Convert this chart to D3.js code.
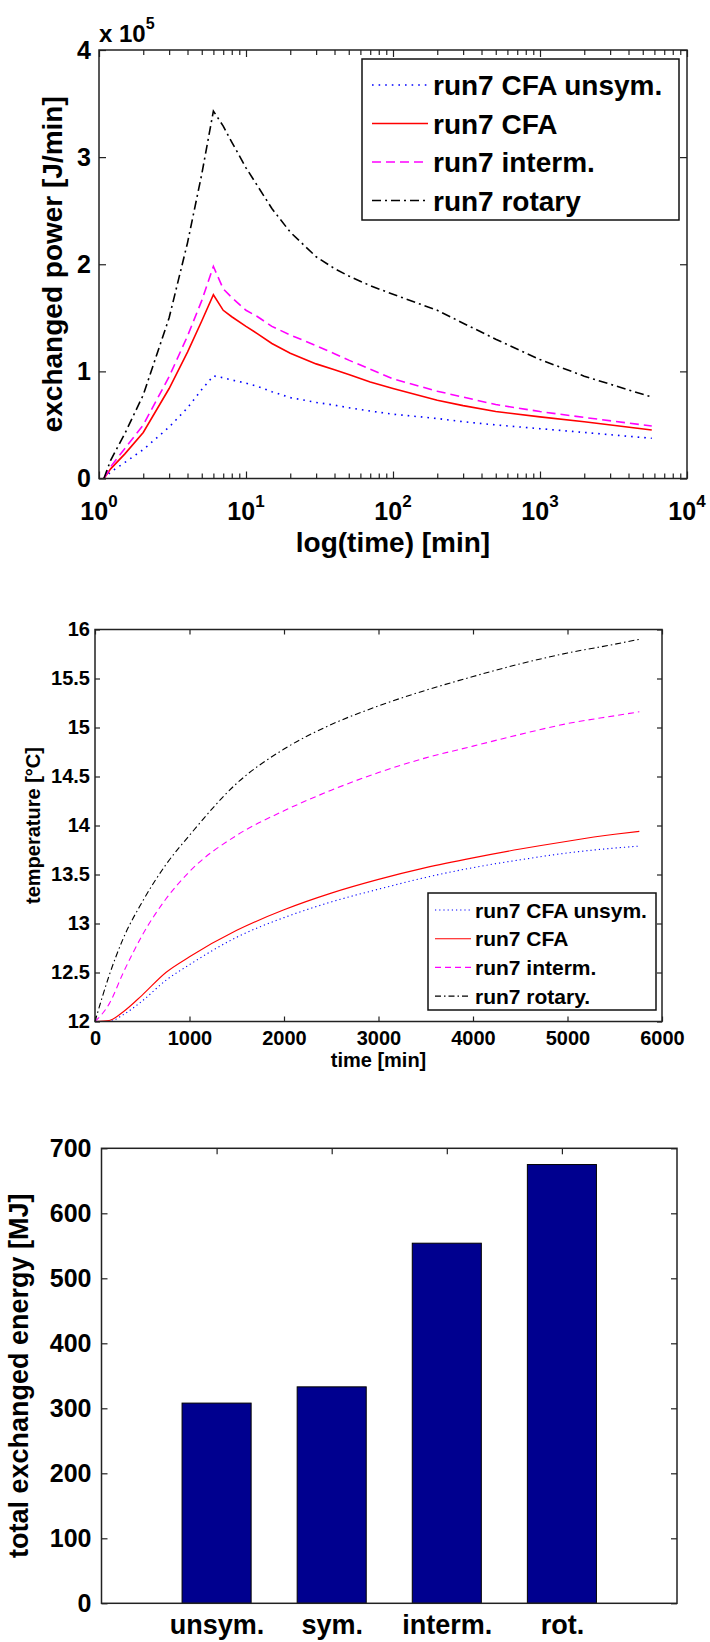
<!DOCTYPE html>
<meta charset="utf-8">
<style>
body { margin: 0; background: #fff; }
svg { display: block; }
text { font-family: "Liberation Sans", Arial, Helvetica, sans-serif; font-weight: bold; fill: #000; }
.frame { fill: none; stroke: #222; stroke-width: 1.5px; }
.line { fill: none; }
</style>
<body>
<script src="https://d3js.org/d3.v7.min.js"></script>
<script>

// ---------- data ----------
// exchanged power (x 10^5 J/min) against time in minutes, log x axis
var powerTime    = [1.08, 1.2, 1.5, 2, 3, 4, 5, 6, 7, 8, 10, 12, 15, 20, 30, 40, 50, 70, 100, 200, 300, 500, 1000, 2000, 5760];
var powerUnsym   = [0, 0.06, 0.15, 0.27, 0.48, 0.66, 0.83, 0.958, 0.94, 0.92, 0.89, 0.86, 0.81, 0.755, 0.71, 0.685, 0.66, 0.63, 0.60, 0.56, 0.53, 0.50, 0.465, 0.43, 0.375];
var powerCFA     = [0, 0.09, 0.23, 0.43, 0.84, 1.18, 1.47, 1.715, 1.57, 1.51, 1.42, 1.35, 1.26, 1.17, 1.07, 1.015, 0.97, 0.90, 0.84, 0.73, 0.68, 0.625, 0.575, 0.53, 0.453];
var powerInterm  = [0, 0.11, 0.28, 0.50, 0.95, 1.33, 1.66, 1.98, 1.77, 1.69, 1.57, 1.51, 1.42, 1.34, 1.24, 1.165, 1.105, 1.02, 0.93, 0.815, 0.76, 0.69, 0.625, 0.57, 0.49];
var powerRotary  = [0, 0.17, 0.42, 0.78, 1.50, 2.20, 2.84, 3.43, 3.29, 3.14, 2.90, 2.73, 2.52, 2.30, 2.07, 1.96, 1.89, 1.80, 1.72, 1.57, 1.45, 1.30, 1.11, 0.955, 0.76];
var powerLegend  = ["run7 CFA unsym.", "run7 CFA", "run7 interm.", "run7 rotary"];
var powerYTicks  = [0, 1, 2, 3, 4];
var decades      = [1, 10, 100, 1000, 10000];

// temperature (°C) against time in minutes
var tempTime     = [0, 150, 300, 500, 750, 1000, 1500, 2000, 2500, 3000, 3500, 4000, 4500, 5000, 5500, 5760];
var tempUnsym    = [12.0, 12.0, 12.07, 12.21, 12.42, 12.58, 12.86, 13.06, 13.22, 13.35, 13.47, 13.57, 13.65, 13.72, 13.77, 13.79];
var tempCFA      = [12.0, 12.01, 12.1, 12.27, 12.5, 12.66, 12.93, 13.14, 13.31, 13.45, 13.57, 13.67, 13.76, 13.84, 13.91, 13.94];
var tempInterm   = [12.0, 12.18, 12.5, 12.88, 13.25, 13.53, 13.9, 14.15, 14.36, 14.54, 14.69, 14.81, 14.93, 15.04, 15.12, 15.16];
var tempRotary   = [12.0, 12.47, 12.85, 13.22, 13.6, 13.9, 14.43, 14.78, 15.03, 15.22, 15.38, 15.52, 15.65, 15.76, 15.85, 15.9];
var tempLegend   = ["run7 CFA unsym.", "run7 CFA", "run7 interm.", "run7 rotary."];
var tempYTicks   = [12, 12.5, 13, 13.5, 14, 14.5, 15, 15.5, 16];
var tempXTicks   = [0, 1000, 2000, 3000, 4000, 5000, 6000];

// total exchanged energy (MJ)
var energyCats   = ["unsym.", "sym.", "interm.", "rot."];
var energyValues = [308, 333, 554, 675];
var energyYTicks = [0, 100, 200, 300, 400, 500, 600, 700];

// line styles, same order as the series
var colors   = ["#0000ff", "#ff0000", "#ff00ff", "#000000"];
var dashes1  = ["1.6,5", null, "9,5", "9,4,2,4"];
var dashes2  = ["1.2,3", null, "6,4", "6,3,1.5,3"];

var svg = d3.select("body").append("svg")
    .attr("width", 710)
    .attr("height", 1642);

function styleAxis(g, size) {
  g.select(".domain").remove();
  g.attr("font-size", size);
  g.selectAll(".tick line").attr("stroke", "#222").attr("stroke-width", 1.2);
  g.selectAll(".tick text").attr("fill", "#000");
}

function legend(box, labels, dashes, fontSize, lineW, sample) {
  svg.append("rect")
      .attr("x", box.x).attr("y", box.y)
      .attr("width", box.w).attr("height", box.h)
      .attr("fill", "#fff").attr("stroke", "#111").attr("stroke-width", 1.5);
  labels.forEach(function(l, i) {
    var yy = box.row0 + i * box.step;
    svg.append("line")
        .attr("x1", box.x + sample[0]).attr("x2", box.x + sample[1])
        .attr("y1", yy).attr("y2", yy)
        .attr("stroke", colors[i]).attr("stroke-width", lineW)
        .attr("stroke-dasharray", dashes[i]);
    svg.append("text")
        .attr("x", box.x + sample[2]).attr("y", yy).attr("dy", "0.36em")
        .style("font-size", fontSize + "px")
        .text(l);
  });
}

// ================= chart 1 : exchanged power =================
var p1 = {left: 99, right: 687, top: 50, bottom: 478.5};
var x1 = d3.scaleLog().domain([1, 1e4]).range([p1.left, p1.right]);
var y1 = d3.scaleLinear().domain([0, 4]).range([p1.bottom, p1.top]);

var minors = [];
decades.slice(0, 4).forEach(function(d) { for (var m = 2; m < 10; m++) minors.push(d * m); });

svg.append("g").attr("transform", "translate(0," + p1.bottom + ")")
    .call(d3.axisBottom(x1).tickValues(minors).tickSize(-5).tickFormat(""))
    .call(styleAxis, 25);
svg.append("g").attr("transform", "translate(0," + p1.top + ")")
    .call(d3.axisTop(x1).tickValues(minors).tickSize(-5).tickFormat(""))
    .call(styleAxis, 25);
svg.append("g").attr("transform", "translate(0," + p1.bottom + ")")
    .call(d3.axisBottom(x1).tickValues(decades).tickSize(-7).tickFormat(""))
    .call(styleAxis, 25);
svg.append("g").attr("transform", "translate(0," + p1.top + ")")
    .call(d3.axisTop(x1).tickValues(decades).tickSize(-7).tickFormat(""))
    .call(styleAxis, 25);
svg.append("g").attr("transform", "translate(" + p1.left + ",0)")
    .call(d3.axisLeft(y1).tickValues(powerYTicks).tickSize(-7).tickPadding(8).tickFormat(d3.format("d")))
    .call(styleAxis, 25);
svg.append("g").attr("transform", "translate(" + p1.right + ",0)")
    .call(d3.axisRight(y1).tickValues(powerYTicks).tickSize(-7).tickFormat(""))
    .call(styleAxis, 25);

// 10^n labels
svg.append("g").selectAll("text").data(decades).join("text")
    .attr("x", function(d) { return x1(d); })
    .attr("y", 520)
    .attr("text-anchor", "middle")
    .style("font-size", "25px")
    .each(function(d) {
      var t = d3.select(this);
      t.append("tspan").text("10");
      t.append("tspan").attr("dy", -13).style("font-size", "17px").text(Math.round(Math.log10(d)));
    });

// x 10^5 multiplier
svg.append("text").attr("x", 99).attr("y", 42).style("font-size", "24px")
    .call(function(t) {
      t.append("tspan").text("x 10");
      t.append("tspan").attr("dy", -13).style("font-size", "16px").text("5");
    });

var powerSeries = [powerUnsym, powerCFA, powerInterm, powerRotary];
var line1 = d3.line()
    .x(function(d, i) { return x1(powerTime[i]); })
    .y(function(d) { return y1(d); });

powerSeries.forEach(function(s, i) {
  svg.append("path")
      .datum(s)
      .attr("class", "line")
      .attr("stroke", colors[i])
      .attr("stroke-width", 1.6)
      .attr("stroke-dasharray", dashes1[i])
      .attr("d", line1);
});

svg.append("rect").attr("class", "frame")
    .attr("x", p1.left).attr("y", p1.top)
    .attr("width", p1.right - p1.left).attr("height", p1.bottom - p1.top);

legend({x: 362, y: 59, w: 317, h: 161, row0: 85, step: 38.5},
       powerLegend, dashes1, 28, 1.6, [10, 66, 71]);

svg.append("text")
    .attr("transform", "translate(62," + (p1.top + p1.bottom) / 2 + ") rotate(-90)")
    .attr("text-anchor", "middle")
    .style("font-size", "28px")
    .text("exchanged power [J/min]");
svg.append("text")
    .attr("x", (p1.left + p1.right) / 2).attr("y", 552)
    .attr("text-anchor", "middle")
    .style("font-size", "28px")
    .text("log(time) [min]");

// ================= chart 2 : temperature =================
var p2 = {left: 95, right: 662, top: 629.5, bottom: 1021.5};
var x2 = d3.scaleLinear().domain([0, 6000]).range([p2.left, p2.right]);
var y2 = d3.scaleLinear().domain([12, 16]).range([p2.bottom, p2.top]);

svg.append("g").attr("transform", "translate(0," + p2.bottom + ")")
    .call(d3.axisBottom(x2).tickValues(tempXTicks).tickSize(-5).tickPadding(9).tickFormat(d3.format("d")))
    .call(styleAxis, 20);
svg.append("g").attr("transform", "translate(0," + p2.top + ")")
    .call(d3.axisTop(x2).tickValues(tempXTicks).tickSize(-5).tickFormat(""))
    .call(styleAxis, 20);
svg.append("g").attr("transform", "translate(" + p2.left + ",0)")
    .call(d3.axisLeft(y2).tickValues(tempYTicks).tickSize(-5).tickPadding(5).tickFormat(d3.format("")))
    .call(styleAxis, 20);
svg.append("g").attr("transform", "translate(" + p2.right + ",0)")
    .call(d3.axisRight(y2).tickValues(tempYTicks).tickSize(-5).tickFormat(""))
    .call(styleAxis, 20);

var tempSeries = [tempUnsym, tempCFA, tempInterm, tempRotary];
var line2 = d3.line()
    .curve(d3.curveMonotoneX)
    .x(function(d, i) { return x2(tempTime[i]); })
    .y(function(d) { return y2(d); });

tempSeries.forEach(function(s, i) {
  svg.append("path")
      .datum(s)
      .attr("class", "line")
      .attr("stroke", colors[i])
      .attr("stroke-width", 1.1)
      .attr("stroke-dasharray", dashes2[i])
      .attr("d", line2);
});

svg.append("rect").attr("class", "frame")
    .attr("stroke-width", 1.3)
    .attr("x", p2.left).attr("y", p2.top)
    .attr("width", p2.right - p2.left).attr("height", p2.bottom - p2.top);

legend({x: 428, y: 893, w: 228, h: 117, row0: 910, step: 28.7},
       tempLegend, dashes2, 21, 1.1, [7, 43, 47]);

svg.append("text")
    .attr("transform", "translate(40," + (p2.top + p2.bottom) / 2 + ") rotate(-90)")
    .attr("text-anchor", "middle")
    .style("font-size", "20px")
    .text("temperature [°C]");
svg.append("text")
    .attr("x", (p2.left + p2.right) / 2).attr("y", 1067)
    .attr("text-anchor", "middle")
    .style("font-size", "20px")
    .text("time [min]");

// ================= chart 3 : total energy =================
var p3 = {left: 101.5, right: 677, top: 1148.3, bottom: 1603.3};
var x3 = d3.scaleLinear().domain([0, 5]).range([p3.left, p3.right]);
var y3 = d3.scaleLinear().domain([0, 700]).range([p3.bottom, p3.top]);
var catPos = energyCats.map(function(c, i) { return i + 1; });

svg.append("g").attr("transform", "translate(0," + p3.bottom + ")")
    .call(d3.axisBottom(x3).tickValues(catPos).tickSize(-6).tickPadding(12)
          .tickFormat(function(d) { return energyCats[d - 1]; }))
    .call(styleAxis, 27);
svg.append("g").attr("transform", "translate(0," + p3.top + ")")
    .call(d3.axisTop(x3).tickValues(catPos).tickSize(-6).tickFormat(""))
    .call(styleAxis, 27);
svg.append("g").attr("transform", "translate(" + p3.left + ",0)")
    .call(d3.axisLeft(y3).tickValues(energyYTicks).tickSize(-6).tickPadding(10).tickFormat(d3.format("d")))
    .call(styleAxis, 25);
svg.append("g").attr("transform", "translate(" + p3.right + ",0)")
    .call(d3.axisRight(y3).tickValues(energyYTicks).tickSize(-6).tickFormat(""))
    .call(styleAxis, 25);

svg.append("g").selectAll("rect").data(energyValues).join("rect")
    .attr("x", function(d, i) { return x3(catPos[i] - 0.3); })
    .attr("width", x3(0.6) - x3(0))
    .attr("y", function(d) { return y3(d); })
    .attr("height", function(d) { return y3(0) - y3(d); })
    .attr("fill", "#00008f")
    .attr("stroke", "#000")
    .attr("stroke-width", 1);

svg.append("rect").attr("class", "frame")
    .attr("x", p3.left).attr("y", p3.top)
    .attr("width", p3.right - p3.left).attr("height", p3.bottom - p3.top);

svg.append("text")
    .attr("transform", "translate(28," + (p3.top + p3.bottom) / 2 + ") rotate(-90)")
    .attr("text-anchor", "middle")
    .style("font-size", "27px")
    .text("total exchanged energy [MJ]");

</script>
</body>
